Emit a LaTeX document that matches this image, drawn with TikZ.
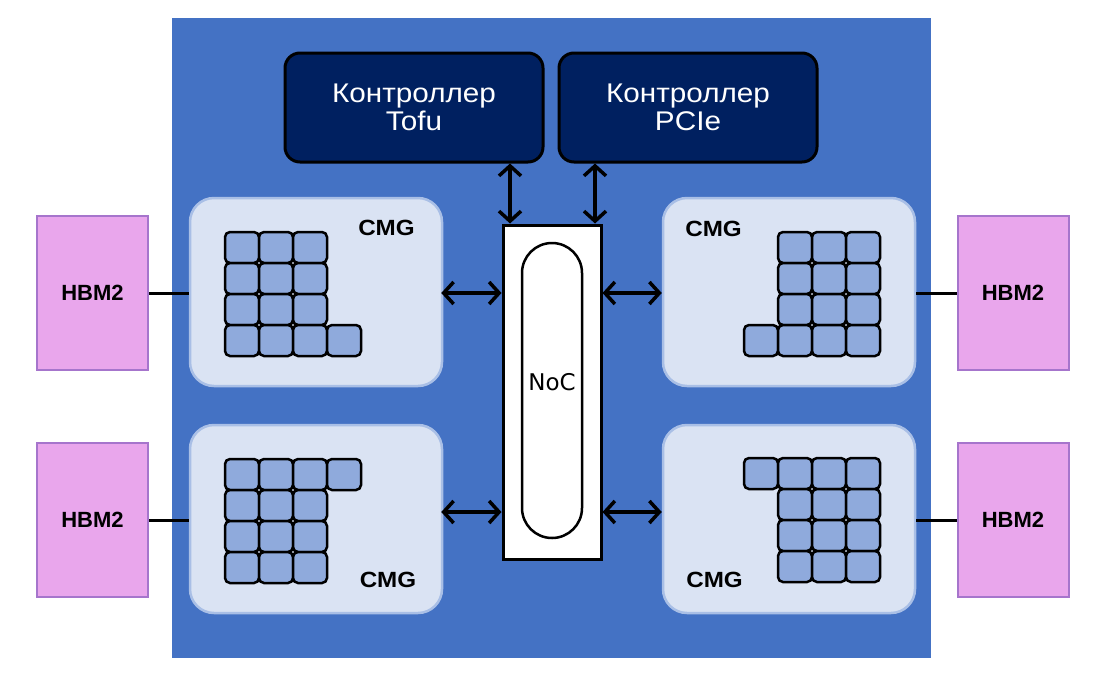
\documentclass[tikz,border=0pt]{standalone}
\usepackage{fontspec}
\setmainfont{Liberation Sans}
\newfontfamily\ctrlfont[FakeStretch=1.1]{Liberation Sans}
\newfontfamily\cmgfont[FakeStretch=1.1]{Liberation Sans}
\newfontfamily\nocfont{DejaVu Sans}
\usetikzlibrary{arrows.meta}
\definecolor{bgblue}{HTML}{4472C4}
\definecolor{ctrlc}{HTML}{002060}
\definecolor{cmgfill}{HTML}{DAE3F3}
\definecolor{cmgline}{HTML}{A9BFE6}
\definecolor{tilec}{HTML}{8FAADC}
\definecolor{hbmfill}{HTML}{E9A6EC}
\definecolor{hbmline}{HTML}{A675CC}
\tikzset{
  ctrlbox/.style={draw=black, line width=3pt, fill=ctrlc, rounded corners=15pt,
    minimum width=258pt, minimum height=109pt, inner sep=0pt, text=white,
    align=center, font=\ctrlfont\fontsize{27}{28}\selectfont},
  cmgbox/.style={draw=cmgline, line width=2.5pt, fill=cmgfill, rounded corners=24pt,
    minimum width=252pt, minimum height=188pt, inner sep=0pt},
  tilebox/.style={draw=black, line width=2.5pt, fill=tilec, rounded corners=5pt,
    minimum width=34pt, minimum height=31pt, inner sep=0pt},
  hbmbox/.style={draw=hbmline, line width=2pt, fill=hbmfill,
    minimum width=111pt, minimum height=154pt, inner sep=0pt,
    font=\bfseries\fontsize{22}{24}\selectfont},
  cmglabel/.style={font=\cmgfont\bfseries\fontsize{22}{24}\selectfont, inner sep=0pt},
  biarrow/.style={line width=3.5pt, {Straight Barb[length=10pt,width=22pt,line width=3.5pt]}-{Straight Barb[length=10pt,width=22pt,line width=3.5pt]}},
  link/.style={line width=3pt},
}
\begin{document}
\begin{tikzpicture}[x=1pt,y=-1pt]
\useasboundingbox (0,0) rectangle (1107,683);
\fill[white] (0,0) rectangle (1107,683);
% chip background
\fill[bgblue] (172,18) rectangle (931,658);
% controllers
\node[ctrlbox] (tofu) at (414,107.5) {Контроллер\\Tofu};
\node[ctrlbox] (pcie) at (688,107.5) {Контроллер\\PCIe};
% NoC
\node[draw=black, line width=3pt, fill=white, minimum width=98pt, minimum height=334pt, inner sep=0pt] (noc) at (552,392) {};
\node[draw=black, line width=2.5pt, fill=white, rounded corners=30pt, minimum width=60pt, minimum height=295pt, inner sep=0pt] (ring) at (552,390.5) {};
\node[font=\nocfont\fontsize{23}{25}\selectfont, inner sep=0pt] (noclabel) at (552,382) {NoC};
% CMG boxes
\node[cmgbox] (cmgTL) at (316,292) {};
\node[cmgbox] (cmgTR) at (789,292) {};
\node[cmgbox] (cmgBL) at (316,519) {};
\node[cmgbox] (cmgBR) at (789,519) {};
\node[cmglabel] (lTL) at (386.5,228) {CMG};
\node[cmglabel] (lTR) at (713.5,229) {CMG};
\node[cmglabel] (lBL) at (388,579.5) {CMG};
\node[cmglabel] (lBR) at (714.5,579.5) {CMG};
% tiles top-left
\foreach \r in {0,1,2}{\foreach \c in {0,1,2}{
  \node[tilebox] (tl-\r-\c) at (225+17+34*\c, 232+15.5+31*\r) {};}}
\foreach \c in {0,1,2,3}{\node[tilebox] (tl-3-\c) at (225+17+34*\c, 232+15.5+31*3) {};}
% tiles bottom-left
\foreach \c in {0,1,2,3}{\node[tilebox] (bl-0-\c) at (225+17+34*\c, 459+15.5) {};}
\foreach \r in {1,2,3}{\foreach \c in {0,1,2}{
  \node[tilebox] (bl-\r-\c) at (225+17+34*\c, 459+15.5+31*\r) {};}}
% tiles top-right
\foreach \r in {0,1,2}{\foreach \c in {1,2,3}{
  \node[tilebox] (tr-\r-\c) at (744+17+34*\c, 232+15.5+31*\r) {};}}
\foreach \c in {0,1,2,3}{\node[tilebox] (tr-3-\c) at (744+17+34*\c, 232+15.5+31*3) {};}
% tiles bottom-right
\foreach \c in {0,1,2,3}{\node[tilebox] (br-0-\c) at (744+17+34*\c, 458+15.5) {};}
\foreach \r in {1,2,3}{\foreach \c in {1,2,3}{
  \node[tilebox] (br-\r-\c) at (744+17+34*\c, 458+15.5+31*\r) {};}}
% HBM2
\node[hbmbox] (hTL) at (92.5,293) {HBM2};
\node[hbmbox] (hBL) at (92.5,520) {HBM2};
\node[hbmbox] (hTR) at (1013,293) {HBM2};
\node[hbmbox] (hBR) at (1013,520) {HBM2};
\draw[link] (hTL.east) -- (cmgTL.west |- hTL.east);
\draw[link] (hBL.east) -- (cmgBL.west |- hBL.east);
\draw[link] (hTR.west) -- (cmgTR.east |- hTR.west);
\draw[link] (hBR.west) -- (cmgBR.east |- hBR.west);
% arrows
\draw[biarrow] ([xshift=-2pt]cmgTL.east |- 0,293) -- (noc.west |- 0,293);
\draw[biarrow] (noc.east |- 0,293) -- (cmgTR.west |- 0,293);
\draw[biarrow] ([xshift=-2pt]cmgBL.east |- 0,512) -- (noc.west |- 0,512);
\draw[biarrow] (noc.east |- 0,512) -- (cmgBR.west |- 0,512);
\draw[biarrow] (510,0 |- tofu.south) -- (510,0 |- noc.north);
\draw[biarrow] (595,0 |- pcie.south) -- (595,0 |- noc.north);
\end{tikzpicture}
\end{document}
